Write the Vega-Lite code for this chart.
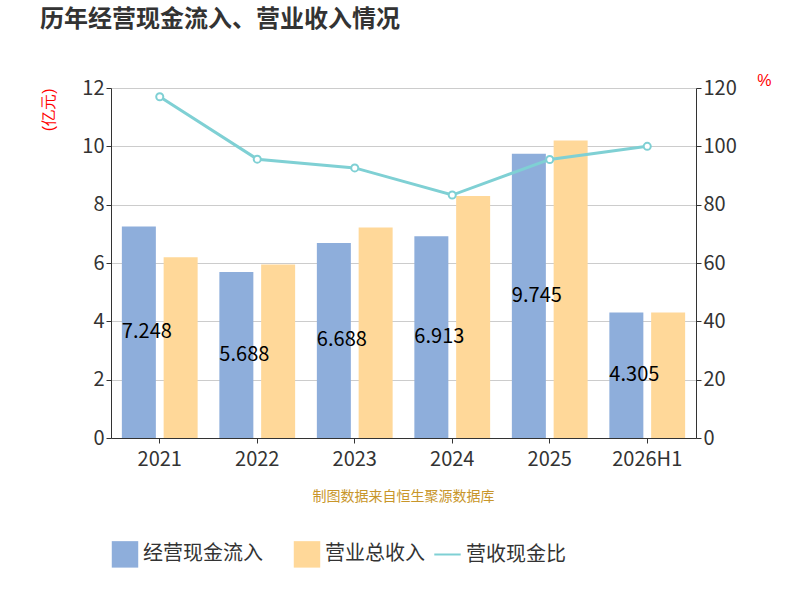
{
  "$schema": "https://vega.github.io/schema/vega-lite/v6.json",
  "padding": {"left": 40, "top": 8, "right": 20, "bottom": 5},
  "title": {"text": "历年经营现金流入、营业收入情况", "fontSize": 24, "font": "Noto Sans CJK SC", "fontWeight": "bold", "color": "#333", "offset": 40},
  "datasets": {
    "rows": [
      {"year": "2021", "cash": 7.248, "rev": 6.2, "ratio": 117.0},
      {"year": "2022", "cash": 5.688, "rev": 5.95, "ratio": 95.6},
      {"year": "2023", "cash": 6.688, "rev": 7.22, "ratio": 92.6},
      {"year": "2024", "cash": 6.913, "rev": 8.3, "ratio": 83.3},
      {"year": "2025", "cash": 9.745, "rev": 10.2, "ratio": 95.5},
      {"year": "2026H1", "cash": 4.305, "rev": 4.3, "ratio": 100.0}
    ],
    "note": [{"t": "制图数据来自恒生聚源数据库"}]
  },
  "vconcat": [
    {
      "width": 585,
      "height": 350,
      "data": {"name": "rows"},
      "encoding": {
        "x": {"field": "year", "type": "nominal", "sort": null, "scale": {"paddingInner": 0.1, "paddingOuter": 0.05},
          "axis": {"title": null, "labelAngle": 0, "labelFontSize": 20, "labelColor": "#333", "domainColor": "#333", "tickColor": "#333", "labelFont": "Noto Sans CJK SC", "labelPadding": 6}}
      },
      "layer": [
        {
          "layer": [
            {
              "transform": [
                {"fold": ["cash", "rev"], "as": ["k", "v"]},
                {"calculate": "datum.k == 'cash' ? '经营现金流入' : '营业总收入'", "as": "series"}
              ],
              "mark": {"type": "bar", "width": 34},
              "encoding": {
                "xOffset": {"field": "series", "type": "nominal", "sort": ["经营现金流入", "营业总收入"], "scale": {"paddingInner": 0.3, "paddingOuter": 0.2}},
                "y": {"field": "v", "type": "quantitative", "scale": {"domain": [0, 12]},
                  "axis": {"title": "(亿元)", "titleColor": "red", "titleFontSize": 16, "titleFontWeight": "normal", "titleAngle": -90, "titleAnchor": "end", "titleX": -55, "titleY": 0, "values": [0,2,4,6,8,10,12], "labelFontSize": 20, "labelColor": "#333", "domainColor": "#333", "tickColor": "#333", "gridColor": "#ccc", "labelFont": "Noto Sans CJK SC"}},
                "color": {"field": "series", "type": "nominal", "sort": ["经营现金流入", "营业总收入"], "scale": {"range": ["#8eaedb", "#ffd899"]},
                  "legend": {"title": null, "orient": "bottom", "direction": "horizontal", "symbolType": "square", "symbolSize": 700, "labelFontSize": 20, "labelColor": "#333", "labelFont": "Noto Sans CJK SC", "offset": 35, "columnPadding": 30}}
              }
            },
            {
              "transform": [{"calculate": "datum.cash / 2", "as": "mid"}, {"calculate": "'经营现金流入'", "as": "series"}],
              "mark": {"type": "text", "fontSize": 20, "color": "black", "dx": 8, "font": "Noto Sans CJK SC"},
              "encoding": {
                "xOffset": {"field": "series", "type": "nominal", "sort": ["经营现金流入", "营业总收入"]},
                "y": {"field": "mid", "type": "quantitative"},
                "text": {"field": "cash", "type": "quantitative", "format": ".3f"}
              }
            }
          ]
        },
        {
          "transform": [{"calculate": "'营收现金比'", "as": "s2"}],
          "mark": {"type": "line", "color": "#7fd0d4", "strokeWidth": 3, "point": {"filled": true, "fill": "white", "stroke": "#7fd0d4", "strokeWidth": 2, "size": 50}},
          "encoding": {
            "y": {"field": "ratio", "type": "quantitative", "scale": {"domain": [0, 120]},
              "axis": {"orient": "right", "title": "%", "titleColor": "red", "titleFontSize": 16, "titleFontWeight": "normal", "titleAngle": 0, "titleAnchor": "end", "titleY": 0, "titleX": 75, "values": [0,20,40,60,80,100,120], "grid": false, "labelFontSize": 20, "labelColor": "#333", "domainColor": "#333", "tickColor": "#333", "labelFont": "Noto Sans CJK SC"}},
            "stroke": {"field": "s2", "type": "nominal", "scale": {"range": ["#7fd0d4"]},
              "legend": {"title": null, "orient": "bottom", "symbolType": "stroke", "symbolSize": 700, "symbolStrokeWidth": 2, "labelFontSize": 20, "labelColor": "#333", "labelFont": "Noto Sans CJK SC", "offset": 35}}
          }
        }
      ],
      "resolve": {"scale": {"y": "independent"}}
    },
    {
      "width": 585,
      "height": 16,
      "data": {"name": "note"},
      "mark": {"type": "text", "fontSize": 14, "color": "#c8962a", "font": "Noto Sans CJK SC"},
      "encoding": {"text": {"field": "t", "type": "nominal"}}
    }
  ],
  "spacing": 20,
  "config": {"view": {"stroke": null}}
}
